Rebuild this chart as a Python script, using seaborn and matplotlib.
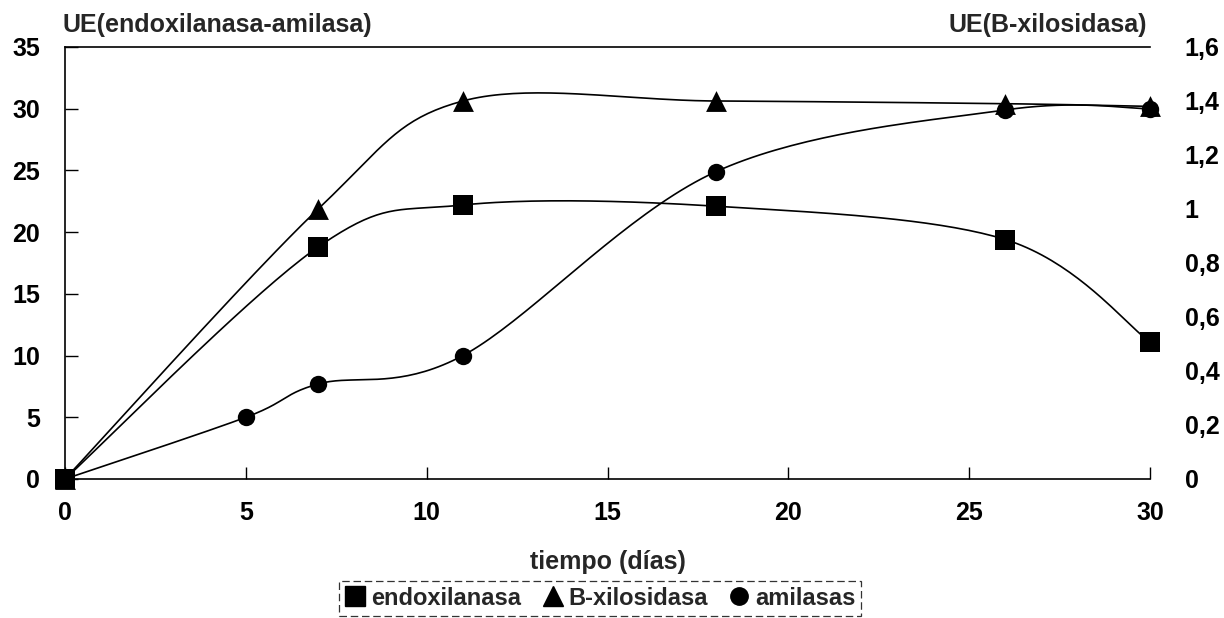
import numpy as np
import pandas as pd
import matplotlib
matplotlib.use("Agg")
import matplotlib.pyplot as plt
from matplotlib.lines import Line2D
from matplotlib.ticker import FixedLocator, FixedFormatter
import seaborn as sns

# ---------------- data ----------------
endo_days = [0, 7, 11, 18, 26, 30]
endoxilanasa = [0, 18.8, 22.2, 22.1, 19.4, 11.1]

bxil_days = [0, 7, 11, 18, 26, 30]
b_xilosidasa = [0, 1.0, 1.4, 1.4, 1.39, 1.38]

amil_days = [0, 5, 7, 11, 18, 26, 30]
amilasas = [0, 5.0, 7.7, 10.0, 24.9, 29.9, 30.0]

x_ticks = [0, 5, 10, 15, 20, 25, 30]
left_ticks = [0, 5, 10, 15, 20, 25, 30, 35]
right_ticks = [0, 0.2, 0.4, 0.6, 0.8, 1.0, 1.2, 1.4, 1.6]
right_tick_labels = ["0", "0,2", "0,4", "0,6", "0,8", "1", "1,2", "1,4", "1,6"]

series_names = ["endoxilanasa", "B-xilosidasa", "amilasas"]
left_title = "UE(endoxilanasa-amilasa)"
right_title = "UE(B-xilosidasa)"
x_title = "tiempo (días)"


def smooth(x, y, n=40):
    """Excel-like smoothed line: cubic Bezier with Catmull-Rom control points."""
    P = np.column_stack([x, y]).astype(float)
    m = len(P)
    out = [P[0]]
    t = np.linspace(0, 1, n)[1:, None]
    for i in range(m - 1):
        p0 = P[i - 1] if i > 0 else P[i]
        p1, p2 = P[i], P[i + 1]
        p3 = P[i + 2] if i + 2 < m else P[i + 1]
        c1 = p1 + (p2 - p0) / 6.0
        c2 = p2 - (p3 - p1) / 6.0
        seg = (1 - t) ** 3 * p1 + 3 * (1 - t) ** 2 * t * c1 + 3 * (1 - t) * t ** 2 * c2 + t ** 3 * p2
        out.extend(seg)
    arr = np.array(out)
    return pd.DataFrame({"x": arr[:, 0], "y": arr[:, 1]})


sns.set_style("white")
plt.rcParams["font.family"] = ["Liberation Sans", "DejaVu Sans"]
plt.rcParams["font.weight"] = "bold"

W, H = 1224, 618
fig = plt.figure(figsize=(W / 100, H / 100), dpi=100)
ax = fig.add_axes([65 / W, 1 - 479 / H, (1150 - 65) / W, (479 - 47) / H])
ax2 = ax.twinx()

lw = 1.2
# smoothed curves
for xs, ys, a in [(endo_days, endoxilanasa, ax), (amil_days, amilasas, ax), (bxil_days, b_xilosidasa, ax2)]:
    d = smooth(xs, ys)
    sns.lineplot(data=d, x="x", y="y", sort=False, estimator=None, ax=a,
                 color="black", linewidth=lw, legend=False)

# markers
sns.scatterplot(x=amil_days, y=amilasas, ax=ax, marker="o", s=12.5 ** 2,
                color="black", edgecolor="black", linewidth=0, zorder=4, legend=False, clip_on=False)
sns.scatterplot(x=bxil_days, y=b_xilosidasa, ax=ax2, marker="^", s=15 ** 2,
                color="black", edgecolor="black", linewidth=0, zorder=4, legend=False, clip_on=False)
sns.scatterplot(x=endo_days, y=endoxilanasa, ax=ax, marker="s", s=15 ** 2,
                color="black", edgecolor="black", linewidth=0, zorder=5, legend=False, clip_on=False)

# axes limits / ticks
ax.set_xlim(0, 30)
ax.set_ylim(0, 35)
ax2.set_ylim(0, 1.6)
ax.xaxis.set_major_locator(FixedLocator(x_ticks))
ax.yaxis.set_major_locator(FixedLocator(left_ticks))
ax2.yaxis.set_major_locator(FixedLocator(right_ticks))
ax2.yaxis.set_major_formatter(FixedFormatter(right_tick_labels))

ax.tick_params(axis="y", left=True, direction="in", length=9, width=1.0, labelsize=18, pad=18, colors="black")
ax.tick_params(axis="x", bottom=True, direction="in", length=9, width=1.0, labelsize=18, pad=16, colors="black")
ax2.tick_params(axis="y", right=True, length=0, labelsize=18, pad=25, colors="black")

for lab in ax.get_xticklabels() + ax.get_yticklabels() + ax2.get_yticklabels():
    lab.set_fontweight("bold")

ax.set_xlabel(x_title, fontsize=18, fontweight="bold", labelpad=18)
ax.set_ylabel("")
ax2.set_ylabel("")

for s in ["left", "bottom", "top"]:
    ax.spines[s].set_visible(True)
    ax.spines[s].set_color("black")
    ax.spines[s].set_linewidth(1.2)
ax.spines["right"].set_visible(False)
for s in ax2.spines.values():
    s.set_visible(False)

# axis titles
fig.text(63 / W, 1 - 25 / H, left_title, ha="left", va="center", fontsize=18, fontweight="bold")
fig.text(1147 / W, 1 - 25 / H, right_title, ha="right", va="center", fontsize=18, fontweight="bold")

# legend
handles = [
    Line2D([], [], linestyle="none", marker="s", markersize=15, color="black"),
    Line2D([], [], linestyle="none", marker="^", markersize=15, color="black"),
    Line2D([], [], linestyle="none", marker="o", markersize=12.5, color="black"),
]
leg = fig.legend(handles, series_names, loc="lower center", bbox_to_anchor=(600 / W, 0.0),
                 ncol=3, frameon=True, fancybox=False, edgecolor="black",
                 prop={"weight": "bold", "size": 17}, handlelength=0.9, handletextpad=0.2,
                 columnspacing=0.9, borderpad=0.25, borderaxespad=0.1)
leg.get_frame().set_linewidth(0.9)
leg.get_frame().set_linestyle((0, (6, 3)))

fig.savefig("out.png", dpi=100)
